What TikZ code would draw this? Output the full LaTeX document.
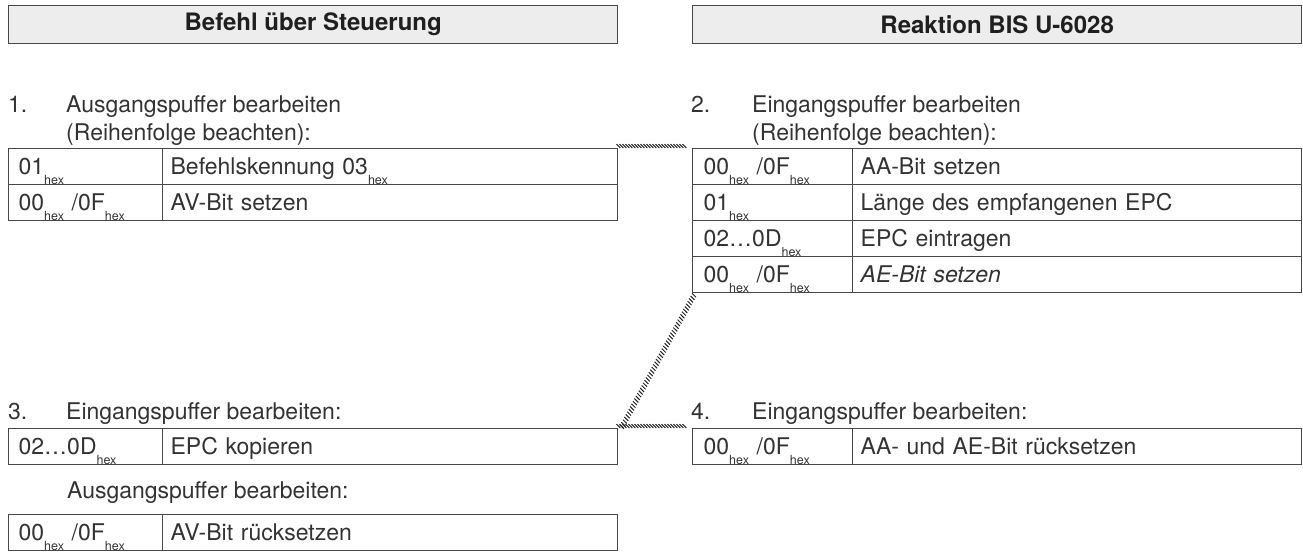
\documentclass[tikz,border=0pt]{standalone}
\usepackage{fontspec}
\setmainfont{TeX Gyre Heros}
\usetikzlibrary{decorations.pathreplacing}
\definecolor{ln}{HTML}{484848}
\definecolor{tx}{HTML}{333333}
\definecolor{hd}{HTML}{EDEDED}
\newcommand\hx{\raisebox{-10pt}{\fontsize{12.5}{12.5}\selectfont hex}}
\begin{document}
\begin{tikzpicture}[x=1pt,y=1pt,
  every node/.style={text=tx, font=\fontsize{23}{27}\selectfont},
  hdr/.style={draw=ln, fill=hd, line width=1.3pt, anchor=north west, minimum width=609pt, minimum height=38pt, inner sep=0pt, font=\fontsize{24}{28}\selectfont\bfseries, text=black!88},
  cell/.style={draw=ln, line width=1.3pt, anchor=north west, inner ysep=0pt, minimum height=36pt, text height=22pt, text depth=6pt, align=left},
  kL/.style={cell, inner xsep=10pt, text width=134pt},
  vL/.style={cell, inner xsep=8pt, text width=439pt},
  kR/.style={cell, inner xsep=11pt, text width=138pt},
  vR/.style={cell, inner xsep=8pt, text width=433pt},
  lbl/.style={anchor=base west, inner sep=0pt},
  hatch/.style={decorate, decoration={border, segment length=3pt, amplitude=5.5pt, angle=135}, draw=black!85, line width=1pt}
]
\useasboundingbox (0,0) rectangle (1303,-552);
% headers
\node[hdr] (h1) at (8,-5) {Befehl über Steuerung};
\node[hdr] (h2) at (692,-5) {Reaktion BIS U-6028};
% step 1 / 2 labels
\node[lbl] (s1n) at (8,-112) {1.};
\node[lbl] (s1a) at (66,-112) {Ausgangspuffer bearbeiten};
\node[lbl] (s1b) at (66,-140) {(Reihenfolge beachten):};
\node[lbl] (s2n) at (691,-112) {2.};
\node[lbl] (s2a) at (752,-112) {Eingangspuffer bearbeiten};
\node[lbl] (s2b) at (752,-140) {(Reihenfolge beachten):};
% table 1
\node[kL] (a1k) at (8,-148) {01\hx};
\node[vL] (a1v) at (162,-148) {Befehlskennung 03\hx};
\node[kL] (a2k) at (8,-184) {00\hx\ /0F\hx};
\node[vL] (a2v) at (162,-184) {AV-Bit setzen};
% table 2
\node[kR] (b1k) at (692,-148) {00\hx\ /0F\hx};
\node[vR] (b1v) at (852,-148) {AA-Bit setzen};
\node[kR] (b2k) at (692,-184) {01\hx};
\node[vR] (b2v) at (852,-184) {Länge des empfangenen EPC};
\node[kR] (b3k) at (692,-220) {02…0D\hx};
\node[vR] (b3v) at (852,-220) {EPC eintragen};
\node[kR] (b4k) at (692,-256) {00\hx\ /0F\hx};
\node[vR] (b4v) at (852,-256) {\itshape AE-Bit setzen};
% step 3
\node[lbl] (s3n) at (8,-419) {3.};
\node[lbl] (s3a) at (66,-419) {Eingangspuffer bearbeiten:};
\node[kL] (c1k) at (8,-428) {02…0D\hx};
\node[vL] (c1v) at (162,-428) {EPC kopieren};
\node[lbl] (s3c) at (67,-498) {Ausgangspuffer bearbeiten:};
\node[kL] (d1k) at (8,-514) {00\hx\ /0F\hx};
\node[vL] (d1v) at (162,-514) {AV-Bit rücksetzen};
% step 4
\node[lbl] (s4n) at (691,-419) {4.};
\node[lbl] (s4a) at (752,-419) {Eingangspuffer bearbeiten:};
\node[kR] (e1k) at (692,-428) {00\hx\ /0F\hx};
\node[vR] (e1v) at (852,-428) {AA- und AE-Bit rücksetzen};
% hatched connectors
\draw[hatch] ([xshift=2pt]a1v.north east) -- (b1k.north west);
\draw[hatch, decoration={angle=74}] (b4k.south west) -- (c1v.north east);
\draw[hatch] ([xshift=2pt]c1v.north east) -- (e1k.north west);
\end{tikzpicture}
\end{document}
